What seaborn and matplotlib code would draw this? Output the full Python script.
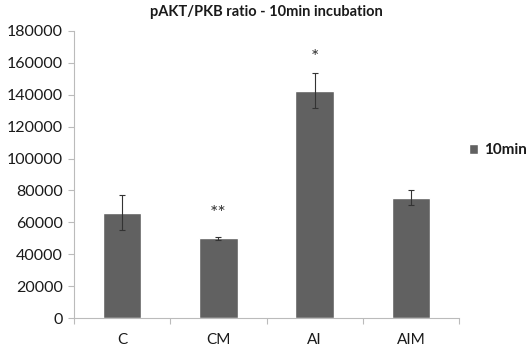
import matplotlib
matplotlib.use("Agg")
import matplotlib.pyplot as plt
import seaborn as sns
import pandas as pd

categories = ["C", "CM", "AI", "AIM"]
values = [66000, 50000, 142500, 75500]
errors = [11000, 1000, 11000, 4500]
marks = ["", "**", "*", ""]
mark_heights = [0, 65500, 163500, 0]
series_name = "10min"
title = "pAKT/PKB ratio - 10min incubation"

sns.set_style("white")
plt.rcParams['font.family'] = ['Lato', 'DejaVu Sans']

df = pd.DataFrame({"cat": categories, "val": values, "series": series_name})

fig = plt.figure(figsize=(5.27, 3.54), dpi=100)
ax = fig.add_axes([74/527, 1 - 318/354, (459-74)/527, (318-31)/354])

sns.barplot(data=df, x="cat", y="val", hue="series", palette=["#616161"],
            width=0.4, ax=ax, errorbar=None, saturation=1)
ax.errorbar(range(len(categories)), values, yerr=errors, fmt="none",
            ecolor="#333333", elinewidth=0.8, capsize=2.5, capthick=0.8)
for i, m in enumerate(marks):
    if m:
        ax.text(i, mark_heights[i], m, ha="center", va="center",
                fontsize=14, color="#333333")

ax.set_ylim(0, 180000)
ax.set_xlim(-0.5, 3.5)
ax.set_yticks(range(0, 180001, 20000))
ax.tick_params(axis="y", labelsize=11.5, length=4, width=0.8, direction="out", left=True,
               color="#bbbbbb", labelcolor="#1a1a1a", pad=4)
ax.tick_params(axis="x", labelsize=11, length=0, pad=11, labelcolor="#1a1a1a")
ax.set_xticks([-0.5, 0.5, 1.5, 2.5, 3.5], minor=True)
ax.tick_params(axis="x", which="minor", length=4, width=0.8, color="#bbbbbb", bottom=True)
ax.set_xlabel("")
ax.set_ylabel("")
for s in ["top", "right"]:
    ax.spines[s].set_visible(False)
for s in ["left", "bottom"]:
    ax.spines[s].set_color("#bbbbbb")
    ax.spines[s].set_linewidth(0.8)

ax.set_title(title, fontsize=10.5, fontweight="bold", color="#1a1a1a", pad=11)
leg = ax.legend(loc="center left", bbox_to_anchor=(0.99, 0.585), frameon=False,
                fontsize=11, handlelength=0.6, handleheight=0.6, handletextpad=0.4)
for t in leg.get_texts():
    t.set_fontweight("bold")
    t.set_color("#1a1a1a")

fig.savefig("out.png", dpi=100)
